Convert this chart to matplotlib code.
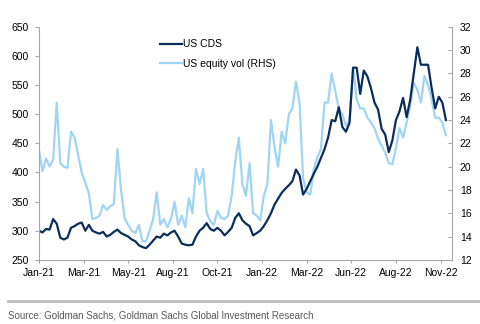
import numpy as np
import matplotlib.pyplot as plt
from matplotlib.lines import Line2D

plt.rcParams['font.family'] = ['Liberation Sans', 'DejaVu Sans']

# ------------------------------ data ------------------------------

tick_labels = ["Jan-21", "Mar-21", "May-21", "Aug-21", "Oct-21",
               "Jan-22", "Mar-22", "Jun-22", "Aug-22", "Nov-22"]

# US CDS, bp - one reading every 4 trading days from the start of 2021
cds = [300, 297, 303, 302, 320, 312, 288, 285, 288, 305,
       308, 312, 314, 300, 310, 300, 297, 295, 298, 290,
       293, 298, 302, 296, 293, 290, 285, 282, 275, 272,
       270, 276, 283, 290, 288, 295, 292, 297, 300, 290,
       278, 276, 275, 276, 290, 300, 305, 313, 303, 300,
       305, 300, 292, 298, 305, 322, 330, 318, 312, 308,
       292, 296, 300, 308, 318, 330, 345, 355, 365, 372,
       378, 385, 405, 395, 362, 372, 385, 398, 410, 425,
       440, 460, 490, 488, 512, 478, 470, 485, 580, 580,
       535, 575, 565, 545, 520, 508, 475, 465, 435, 455,
       490, 505, 528, 495, 525, 570, 615, 585, 585, 585,
       545, 510, 530, 520, 490]

# US equity vol (right axis), same dates
equity_vol = [21.5, 19.6, 20.7, 20.0, 20.6, 25.5, 20.3, 20.0, 19.9, 23.0,
              22.5, 21.0, 19.5, 18.6, 17.7, 15.5, 15.6, 15.8, 16.7, 16.3,
              16.6, 16.8, 21.5, 18.0, 15.6, 15.0, 14.5, 14.3, 15.0, 13.6,
              13.6, 14.5, 15.5, 17.8, 15.0, 15.5, 14.8, 15.5, 17.0, 15.0,
              15.8, 14.8, 17.3, 16.0, 19.8, 18.5, 19.8, 16.0, 15.3, 15.0,
              16.2, 15.6, 15.5, 15.8, 17.5, 20.5, 22.5, 18.5, 17.5, 20.3,
              16.0, 15.8, 15.4, 17.5, 18.5, 24.0, 21.7, 20.0, 23.0, 22.0,
              24.5, 25.0, 27.3, 25.5, 19.0, 17.8, 17.6, 19.8, 20.8, 21.5,
              25.5, 25.5, 28.0, 26.5, 25.0, 24.5, 23.5, 24.0, 28.5, 25.8,
              25.0, 25.0, 24.2, 23.8, 23.3, 22.4, 21.8, 21.2, 20.3, 20.2,
              21.6, 23.3, 22.5, 23.8, 25.2, 27.2, 26.6, 25.5, 27.8, 27.0,
              25.8, 24.2, 24.2, 23.8, 22.7]

days = np.arange(len(cds)) * 4

DARK = "#0b2d5c"
LIGHT = "#a0d4f4"
AXIS_GREY = "#a6a6a6"

# ------------------------------ chart ------------------------------

fig = plt.figure(figsize=(4.8, 3.24), dpi=100)
ax = fig.add_axes([0.081, 0.198, 0.861, 0.719])
ax2 = ax.twinx()

vol_line, = ax2.plot(days, equity_vol, color=LIGHT, lw=1.6)
cds_line, = ax.plot(days, cds, color=DARK, lw=1.6)

# CDS on top of the vol line
ax.set_zorder(ax2.get_zorder() + 1)
ax.patch.set_visible(False)

ax.set_xlim(0, 463)
ax.set_ylim(250, 650)
ax.set_yticks(range(250, 651, 50))
ax2.set_ylim(12, 32)
ax2.set_yticks(range(12, 33, 2))
ax.set_xticks(np.arange(len(tick_labels)) * 50, tick_labels)

for a in (ax, ax2):
    for side in a.spines:
        a.spines[side].set_color(AXIS_GREY)
    a.spines["top"].set_visible(False)
ax.spines["right"].set_visible(False)
ax2.spines["left"].set_visible(False)
ax2.spines["bottom"].set_visible(False)

ax.tick_params(axis="y", length=3, pad=4, color=AXIS_GREY, labelsize=7.5)
ax.tick_params(axis="x", length=2.5, pad=3.5, color=AXIS_GREY, labelsize=7.5)
ax2.tick_params(axis="y", direction="in", length=3, pad=5.5,
                color=AXIS_GREY, labelsize=7.5)

ax.legend([cds_line, vol_line], ["US CDS", "US equity vol (RHS)"],
          loc="upper left", bbox_to_anchor=(0.293, 0.947), frameon=False,
          fontsize=7.5, handlelength=2.1, handletextpad=0.15,
          labelspacing=0.95, borderpad=0, borderaxespad=0)

# source line at the bottom
fig.add_artist(Line2D([8 / 480, 1.0], [1 - 301 / 324] * 2,
                      color="#bfbfbf", lw=2))
fig.text(8 / 480, 1 - 315 / 324,
         "Source: Goldman Sachs, Goldman Sachs Global Investment Research",
         fontsize=7, color="#595959", va="center")

fig.savefig("out.png", dpi=100)
